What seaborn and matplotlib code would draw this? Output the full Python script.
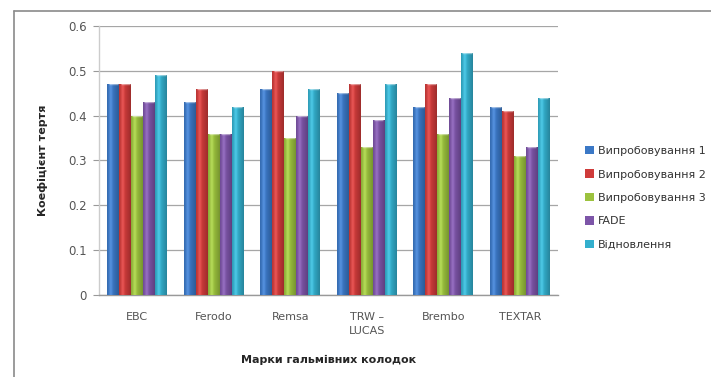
import matplotlib
matplotlib.use("Agg")
import matplotlib.pyplot as plt
import matplotlib.colors as mcolors
import numpy as np
import seaborn as sns
import pandas as pd
from matplotlib.patches import Rectangle
from matplotlib.lines import Line2D

brands = ["EBC", "Ferodo", "Remsa", "TRW –\nLUCAS", "Brembo", "TEXTAR"]
series = ["Випробовування 1", "Випробовування 2", "Випробовування 3", "FADE", "Відновлення"]
test1 = [0.47, 0.43, 0.46, 0.45, 0.42, 0.42]
test2 = [0.47, 0.46, 0.50, 0.47, 0.47, 0.41]
test3 = [0.40, 0.36, 0.35, 0.33, 0.36, 0.31]
fade = [0.43, 0.36, 0.40, 0.39, 0.44, 0.33]
recovery = [0.49, 0.42, 0.46, 0.47, 0.54, 0.44]
yticks = [0, 0.1, 0.2, 0.3, 0.4, 0.5, 0.6]
ytick_labels = ["0", "0.1", "0.2", "0.3", "0.4", "0.5", "0.6"]

colors = ["#3b78c6", "#cf3b3a", "#9cc23e", "#7d55a8", "#33afcd"]

rows = []
for name, vals in zip(series, [test1, test2, test3, fade, recovery]):
    for b, v in zip(brands, vals):
        rows.append({"brand": b, "series": name, "value": v})
df = pd.DataFrame(rows)

sns.set_theme(style="white")
plt.rcParams["font.family"] = ["DejaVu Sans"]

fig = plt.figure(figsize=(7.11, 3.77), dpi=100)
ax = fig.add_axes([99 / 711, 1 - 295 / 377, (558 - 99) / 711, (295 - 26) / 377])

sns.barplot(data=df, x="brand", y="value", hue="series", palette=colors,
            order=brands, hue_order=series, width=0.78, ax=ax, saturation=1,
            edgecolor="none", linewidth=0, legend=False, zorder=3)

# cylinder-like shading on each bar, following the bar geometry
for patch in list(ax.patches):
    x, y = patch.get_x(), patch.get_y()
    w, h = patch.get_width(), patch.get_height()
    if h <= 0:
        continue
    base = np.array(mcolors.to_rgb(patch.get_facecolor()))
    t = np.linspace(0, 1, 32)
    shade = 1.0 - 0.4 * np.abs(t - 0.35) ** 1.2
    light = np.clip(base[None, :] * shade[:, None] + 0.10 * np.exp(-((t - 0.3) / 0.15) ** 2)[:, None], 0, 1)
    img = light[None, :, :]
    im = ax.imshow(img, extent=[x, x + w, y, y + h], aspect="auto", zorder=3.5,
                   interpolation="bilinear")
    im.set_clip_path(patch)
    ax.plot([x + w * 0.1, x + w * 0.9], [y + h, y + h], color="white", alpha=0.45,
            linewidth=1.0, zorder=4, solid_capstyle="butt")

ax.set_ylim(0, 0.6)
ax.set_xlim(-0.5, len(brands) - 0.5)
ax.set_yticks(yticks)
ax.set_yticklabels(ytick_labels, color="#555555", fontsize=8.5)
ax.tick_params(axis="x", labelsize=8, labelcolor="#555555", length=0, pad=12)
for lbl in ax.get_xticklabels():
    lbl.set_linespacing(1.5)
ax.tick_params(axis="y", length=4, width=0.8, color="#999999", pad=5, left=True)
ax.grid(axis="y", color="#a6a6a6", linewidth=0.9, zorder=0)
ax.set_axisbelow(True)
for s in ["top", "right"]:
    ax.spines[s].set_visible(False)
ax.spines["left"].set_color("#cccccc")
ax.spines["left"].set_linewidth(1.0)
ax.spines["bottom"].set_color("#999999")
ax.spines["bottom"].set_linewidth(1.0)

ax.set_xlabel("Марки гальмівних колодок", fontsize=8, fontweight="bold", labelpad=14)
ax.set_ylabel("Коефіцієнт тертя", fontsize=8, fontweight="bold", labelpad=14)

# outer chart frame (left and top edges visible)
fig.add_artist(Line2D([14 / 711, 14 / 711], [0, 1 - 11 / 377], transform=fig.transFigure,
                      color="#8a8a8a", linewidth=1.2))
fig.add_artist(Line2D([14 / 711, 1], [1 - 11 / 377, 1 - 11 / 377], transform=fig.transFigure,
                      color="#8a8a8a", linewidth=1.2))

handles = [Rectangle((0, 0), 1, 1, facecolor=c, edgecolor="none") for c in colors]
fig.legend(handles, series, loc="upper left", bbox_to_anchor=(575 / 711, 1 - 136 / 377),
           frameon=False, fontsize=8, handlelength=0.8, handleheight=0.8,
           handletextpad=0.4, labelspacing=1.2, labelcolor="#333333")

fig.savefig("out.png", dpi=100)
